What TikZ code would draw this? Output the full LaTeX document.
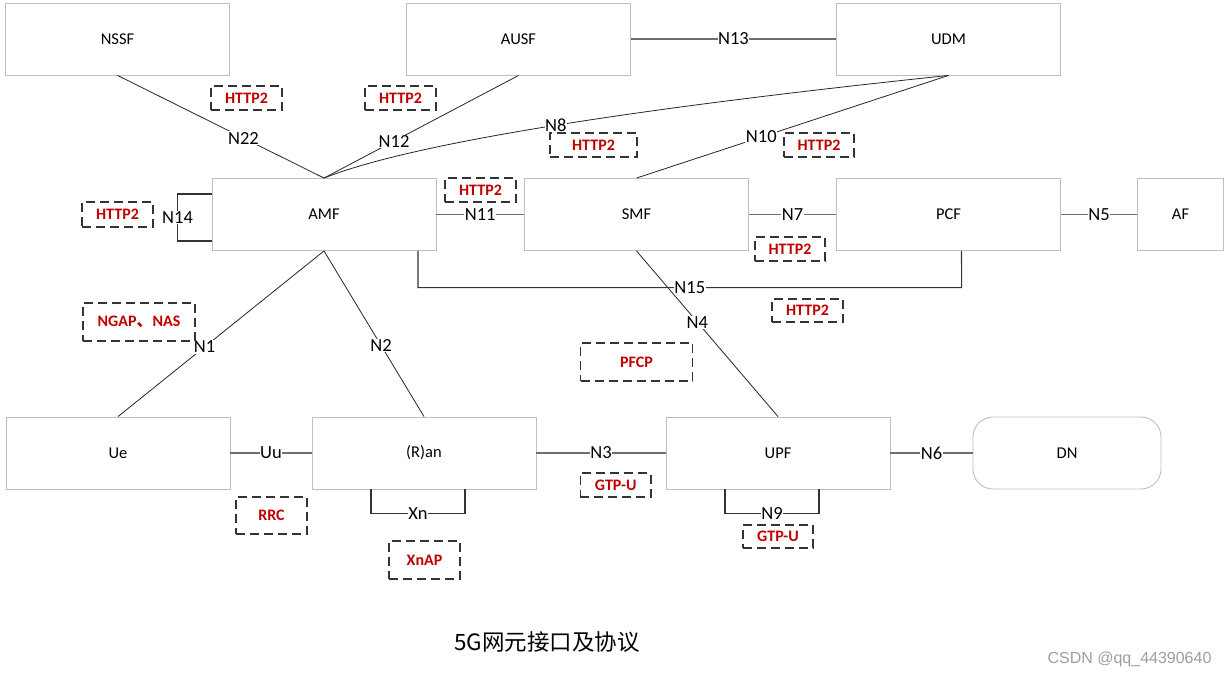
\documentclass[tikz,border=0pt]{standalone}
\usepackage{fontspec}
\setmainfont{Carlito}
\newfontfamily\cjk{Noto Sans CJK SC}
\newfontfamily\wmfont{Liberation Sans}
\usetikzlibrary{calc}
\definecolor{boxgray}{HTML}{BFBFBF}
\definecolor{dashgray}{HTML}{333333}
\definecolor{protored}{HTML}{C00000}
\definecolor{linegray}{HTML}{6E6E6E}
\begin{document}
\begin{tikzpicture}[x=1pt,y=-1pt,
 nf/.style={draw=boxgray,fill=white,line width=0.9pt,minimum width=224pt,minimum height=72pt,inner sep=0pt,font=\fontsize{16.5}{18}\selectfont},
 proto/.style={draw=dashgray,dash pattern=on 9pt off 5pt,line width=1.4pt,inner sep=0pt,text=protored,font=\bfseries\fontsize{16}{18}\selectfont},
 lbl/.style={fill=white,inner sep=0.6pt,font=\fontsize{18.5}{20}\selectfont},
 hl/.style={draw=linegray,line width=1.8pt},
 dl/.style={draw=black!85,line width=0.8pt},
 br/.style={draw=black!80,line width=1.1pt},
]
\useasboundingbox[fill=white] (0,0) rectangle (1230,677);

% network functions
\node[nf] (NSSF) at (117.5,39) {NSSF};
\node[nf] (AUSF) at (518.5,39) {AUSF};
\node[nf] (UDM) at (948.5,39) {UDM};
\node[nf] (AMF) at (324,214.5) {AMF};
\node[nf] (SMF) at (636.5,214.5) {SMF};
\node[nf] (PCF) at (948.5,214.5) {PCF};
\node[nf,minimum width=86pt] (AF) at (1180.5,214.5) {AF};
\node[nf] (Ue) at (118,453) {Ue};
\node[nf] (RAN) at (424,453) {(R)an};
\node[nf] (UPF) at (778,453) {UPF};
\node[nf,minimum width=188pt,rounded corners=20pt] (DN) at (1067,453) {DN};

% connectors
\draw[dl] (NSSF.south) -- node[lbl,pos=0.61]{N22} (AMF.north);
\draw[dl] (AUSF.south) -- node[lbl,pos=0.64]{N12} (AMF.north);
\draw[dl] (AMF.north) .. controls (408,144.7) and (616.3,110.3) .. node[lbl,pos=0.52]{N8} (UDM.south);
\draw[dl] (UDM.south) -- node[lbl,pos=0.6]{N10} (SMF.north);
\draw[hl] (AUSF.east) -- node[lbl]{N13} (UDM.west);
\draw[hl] (AMF.east) -- node[lbl]{N11} (SMF.west);
\draw[hl] (SMF.east) -- node[lbl]{N7} (PCF.west);
\draw[hl] (PCF.east) -- node[lbl]{N5} (AF.west);
\draw[br] ([yshift=20.5pt]AMF.west) -- ++(-34,0) -- node[lbl]{N14} ++(0,47) -- ([yshift=-26.5pt]AMF.west);
\draw[dl] (SMF.south) -- node[lbl,pos=0.43]{N4} (UPF.north);
\draw[br] ([xshift=94pt]AMF.south) -- ++(0,36.7) -- node[lbl]{N15} ++(543.6,0) -- ([xshift=13pt]PCF.south);
\draw[dl] (AMF.south) -- node[lbl,pos=0.58]{N1} (Ue.north);
\draw[dl] (AMF.south) -- node[lbl,pos=0.57]{N2} (RAN.north);
\draw[hl] (Ue.east) -- node[lbl]{Uu} (RAN.west);
\draw[hl] (RAN.east) -- node[lbl]{N3} (UPF.west);
\draw[hl] (UPF.east) -- node[lbl]{N6} (DN.west);
\draw[br] ([xshift=-53pt]RAN.south) -- ++(0,24) -- node[lbl]{Xn} ++(94,0) -- ([xshift=41pt]RAN.south);
\draw[br] ([xshift=-53pt]UPF.south) -- ++(0,24) -- node[lbl]{N9} ++(94,0) -- ([xshift=41pt]UPF.south);

% protocol boxes
\node[proto,minimum width=71pt,minimum height=24pt] (p1) at (246.5,98) {HTTP2};
\node[proto,minimum width=71pt,minimum height=24pt] (p2) at (400.5,98) {HTTP2};
\node[proto,minimum width=87pt,minimum height=24pt] (p3) at (593.5,145) {HTTP2};
\node[proto,minimum width=70pt,minimum height=24pt] (p4) at (819,145) {HTTP2};
\node[proto,minimum width=71pt,minimum height=25pt] (p5) at (117.5,214.5) {HTTP2};
\node[proto,minimum width=71pt,minimum height=24pt] (p6) at (480.5,190) {HTTP2};
\node[proto,minimum width=70pt,minimum height=24pt] (p7) at (790,249) {HTTP2};
\node[proto,minimum width=71pt,minimum height=23pt] (p8) at (807.5,310.5) {HTTP2};
\node[proto,minimum width=112pt,minimum height=38pt] (p9) at (139,322) {NGAP{\cjk 、}NAS};
\node[proto,minimum width=112pt,minimum height=38pt] (p10) at (636.5,362) {PFCP};
\node[proto,minimum width=71pt,minimum height=37pt] (p11) at (271.5,515.5) {RRC};
\node[proto,minimum width=71pt,minimum height=38pt] (p12) at (424.5,560) {XnAP};
\node[proto,minimum width=70.5pt,minimum height=24pt] (p13) at (615.7,485) {GTP-U};
\node[proto,minimum width=70pt,minimum height=23pt] (p14) at (778,536.5) {GTP-U};

% title and watermark
\node[font=\cjk\fontsize{22.5}{26}\selectfont] (title) at (547,642) {5G网元接口及协议};
\node[font=\wmfont\fontsize{16}{18}\selectfont,text=gray!75,anchor=east] (wm) at (1215,659) {CSDN @qq\_44390640};
\end{tikzpicture}
\end{document}
